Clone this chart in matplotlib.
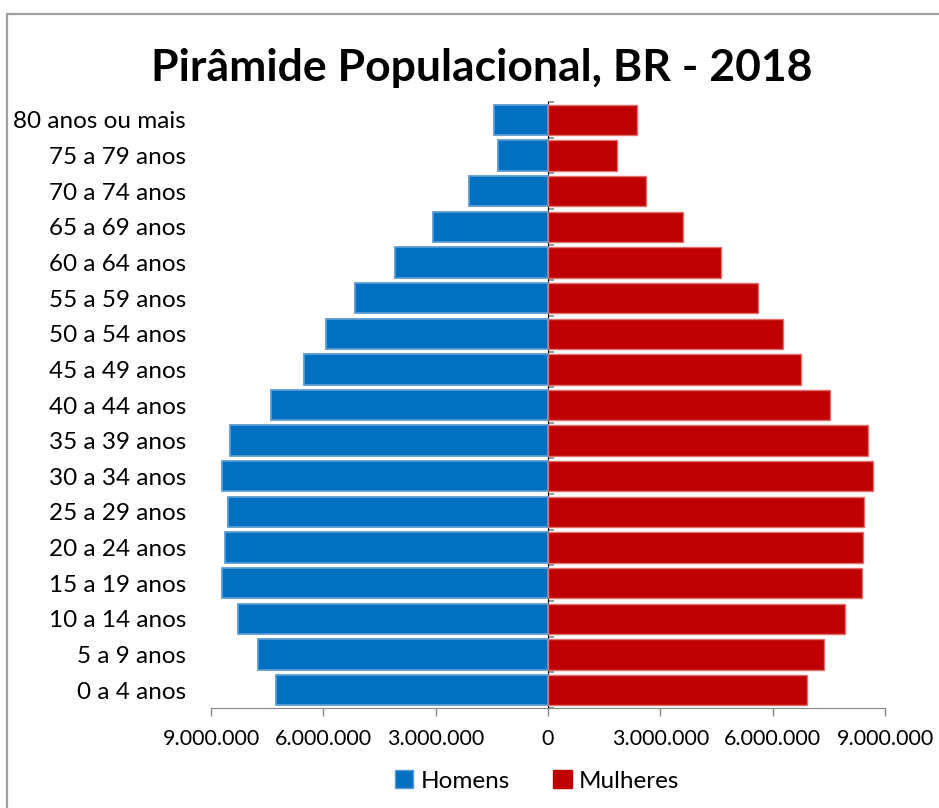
import matplotlib.pyplot as plt
import numpy as np
from matplotlib.patches import Patch, Rectangle
from matplotlib.ticker import FuncFormatter

plt.rcParams['font.family'] = ['Lato', 'DejaVu Sans']

faixas = ['0 a 4 anos', '5 a 9 anos', '10 a 14 anos', '15 a 19 anos',
          '20 a 24 anos', '25 a 29 anos', '30 a 34 anos', '35 a 39 anos',
          '40 a 44 anos', '45 a 49 anos', '50 a 54 anos', '55 a 59 anos',
          '60 a 64 anos', '65 a 69 anos', '70 a 74 anos', '75 a 79 anos',
          '80 anos ou mais']
homens = [7260000, 7750000, 8280000, 8710000, 8630000, 8550000, 8710000,
          8480000, 7390000, 6520000, 5930000, 5150000, 4090000, 3070000,
          2110000, 1340000, 1440000]
mulheres = [6920000, 7370000, 7930000, 8390000, 8410000, 8430000, 8680000,
            8550000, 7520000, 6760000, 6280000, 5610000, 4620000, 3610000,
            2620000, 1840000, 2380000]
xticks = [-9000000, -6000000, -3000000, 0, 3000000, 6000000, 9000000]

W, H = 939, 808
fig = plt.figure(figsize=(W / 100, H / 100), dpi=100)
ax = fig.add_axes([211 / W, 1 - 708 / H, (885 - 211) / W, (708 - 102) / H])

y = np.arange(len(faixas))
ax.barh(y, -np.array(homens), height=0.85, color='#0070C0',
        edgecolor='#5B9BD5', linewidth=1.3, label='Homens')
ax.barh(y, mulheres, height=0.85, color='#C00000',
        edgecolor='#E07070', linewidth=1.0, label='Mulheres')

ax.set_xlim(-9000000, 9000000)
ax.set_ylim(-0.5, len(faixas) - 0.5)

ax.set_xticks(xticks)
ax.xaxis.set_major_formatter(
    FuncFormatter(lambda v, p: f'{abs(int(v)):,}'.replace(',', '.')))
ax.tick_params(axis='x', length=6, width=1, color='#868686',
               labelsize=15.5, pad=9)

ax.set_yticks(y)
ax.set_yticklabels(faixas)
ax.tick_params(axis='y', length=0, labelsize=17.5, pad=18)

for s in ['top', 'right', 'left']:
    ax.spines[s].set_visible(False)
ax.spines['bottom'].set_color('#868686')

# category axis through zero with marks between groups
sec = ax.secondary_yaxis(0.5)
sec.set_yticks(np.arange(-0.5, len(faixas), 1))
sec.tick_params(length=4, width=1.2, color='#868686', labelleft=False,
                labelright=False)
sec.spines['left'].set_color('#868686')
sec.spines['left'].set_linewidth(1.5)

fig.text(482 / W, 1 - 68 / H, 'Pirâmide Populacional, BR - 2018',
         ha='center', va='center', fontsize=32, fontweight='bold')

handles = [Patch(facecolor='#0070C0', edgecolor='#5B9BD5', label='Homens'),
           Patch(facecolor='#C00000', edgecolor='#C00000', label='Mulheres')]
fig.legend(handles=handles, loc='center', bbox_to_anchor=(537 / W, 1 - 781 / H),
           ncol=2, frameon=False, fontsize=17.5, handlelength=0.75,
           handleheight=0.75, handletextpad=0.3, columnspacing=1.8)

fig.add_artist(Rectangle((7 / W, -0.1), 1.2, 1.1 - 14.5 / H,
                         transform=fig.transFigure, fill=False,
                         edgecolor='#a0a0a0', linewidth=1.6))

fig.savefig('out.png', dpi=100)
